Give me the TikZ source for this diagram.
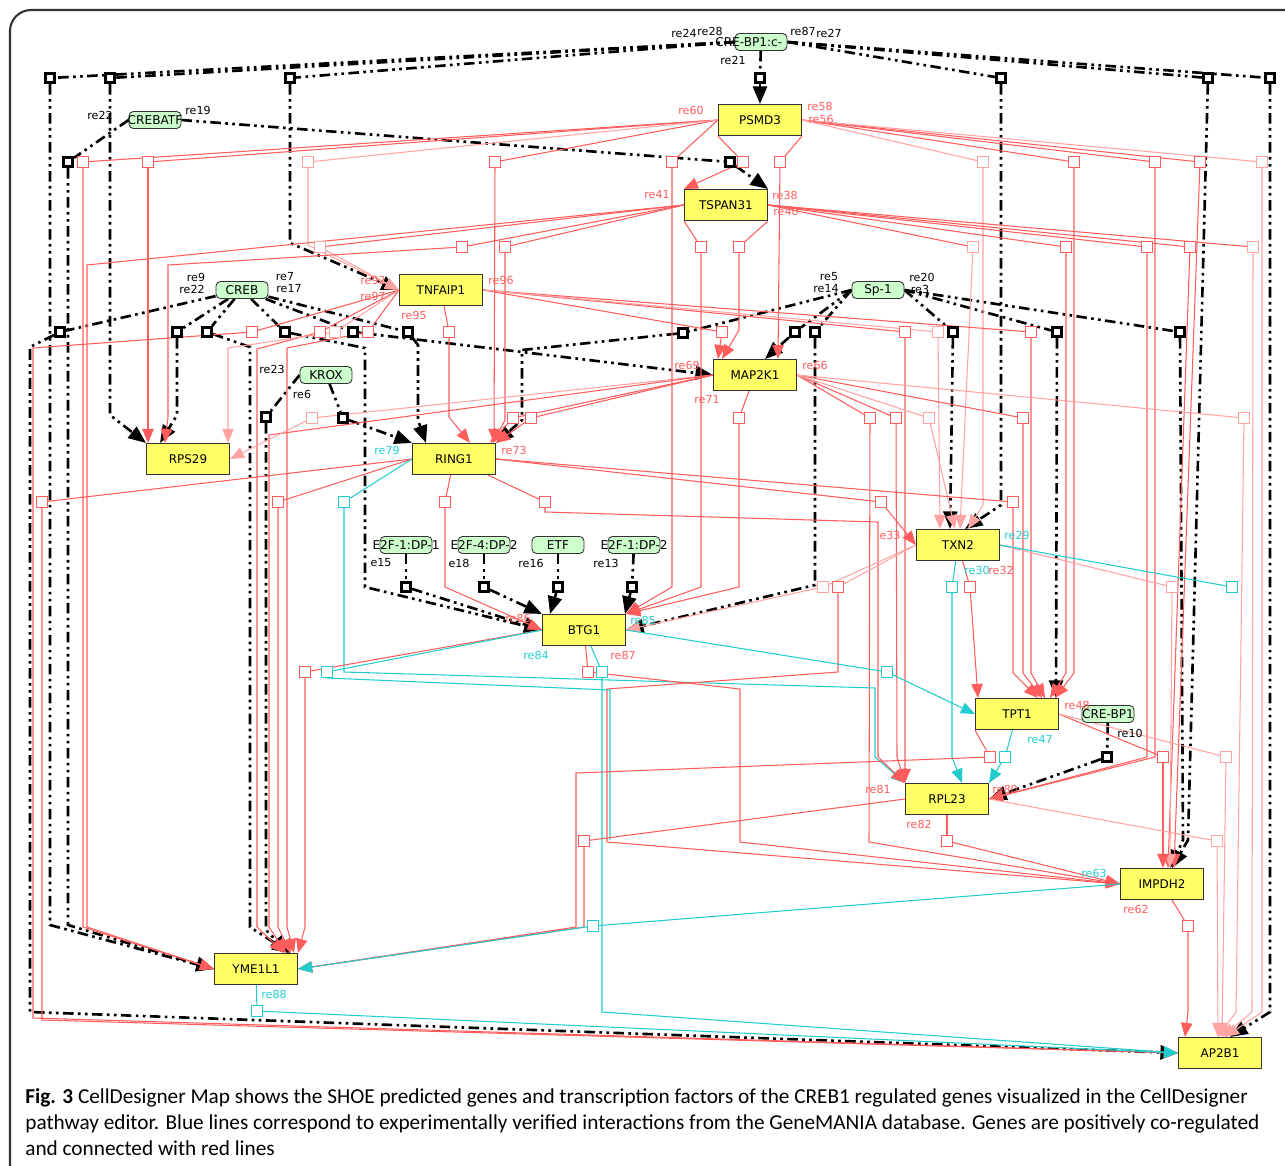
\documentclass[tikz,border=0pt]{standalone}
\usepackage{fontspec}
\setmainfont{DejaVu Sans}
\newfontfamily\capfont{Carlito}
\usepackage{tikz}
\usetikzlibrary{arrows.meta}

\definecolor{geneYellow}{HTML}{FFFF66}
\definecolor{tfGreen}{HTML}{CCFFCC}
\definecolor{coRed}{HTML}{FF5C5C}
\definecolor{coPink}{HTML}{FFA3A3}
\definecolor{gmCyan}{HTML}{22CCCC}

\pgfdeclarelayer{edges}
\pgfsetlayers{edges,main}

\begin{document}
\begin{tikzpicture}[
    x=0.02cm, y=-0.02cm,
    % gene and factor boxes
    geneNode/.style={rectangle, draw=black!80, line width=0.6pt, fill=geneYellow,
        minimum width=1.66cm, minimum height=0.62cm, inner sep=0pt,
        font=\fontsize{6.8}{8}\selectfont},
    tfNode/.style={rectangle, rounded corners=2.5pt, draw=black!80, line width=0.5pt,
        fill=tfGreen, minimum width=1.04cm, minimum height=0.34cm, inner sep=0pt,
        font=\fontsize{6.9}{8}\selectfont},
    % process squares
    tfSq/.style={rectangle, draw=black, line width=1.5pt, fill=white,
        minimum size=0.19cm, inner sep=0pt},
    redSq/.style={rectangle, draw=coRed, line width=0.6pt, fill=white,
        minimum size=0.22cm, inner sep=0pt},
    pinkSq/.style={redSq, draw=coPink},
    cyanSq/.style={redSq, draw=gmCyan},
    % connectors
    tfEdge/.style={draw=black, line width=1.5pt,
        dash pattern=on 6pt off 2.5pt on 1.5pt off 2.5pt on 1.5pt off 2.5pt},
    tfArrow/.style={tfEdge, -{Triangle[length=10pt,width=8pt]}},
    coEdge/.style={draw=coRed, line width=0.6pt},
    coArrow/.style={coEdge, -{Triangle[length=8pt,width=6.5pt]}},
    pkEdge/.style={draw=coPink, line width=0.6pt},
    pkArrow/.style={pkEdge, -{Triangle[length=8pt,width=6.5pt]}},
    gmEdge/.style={draw=gmCyan, line width=0.6pt},
    gmArrow/.style={gmEdge, -{Triangle[length=8pt,width=6.5pt]}},
    % reaction labels
    reLabel/.style={font=\fontsize{6.3}{7}\selectfont, inner sep=0pt},
    reBlack/.style={reLabel, text=black},
    reRed/.style={reLabel, text=coRed},
    reCyan/.style={reLabel, text=gmCyan},
    capText/.style={anchor=base west, inner sep=0pt, font=\capfont\fontsize{12.1}{14}\selectfont}
]
\useasboundingbox (0,0) rectangle (1285,1166);
\draw[line width=1.2pt, black!80, rounded corners=12pt] (10,1166) -- (10,10) -- (1285,10);

    % Define Nodes
    \node[geneNode] (PSMD3) at (760,120) {PSMD3};
    \node[geneNode] (TSPAN31) at (726,205) {TSPAN31};
    \node[geneNode] (TNFAIP1) at (441,290) {TNFAIP1};
    \node[geneNode] (MAP2K1) at (755,375) {MAP2K1};
    \node[geneNode] (RPS29) at (188,459) {RPS29};
    \node[geneNode] (RING1) at (454,459) {RING1};
    \node[geneNode] (TXN2) at (958,545) {TXN2};
    \node[geneNode] (BTG1) at (584,630) {BTG1};
    \node[geneNode] (TPT1) at (1017,714) {TPT1};
    \node[geneNode] (RPL23) at (947,799) {RPL23};
    \node[geneNode] (IMPDH2) at (1162,884) {IMPDH2};
    \node[geneNode] (YME1L1) at (256,969) {YME1L1};
    \node[geneNode] (AP2B1) at (1220,1053) {AP2B1};

    \node[tfNode] (CREBPc) at (761,42) {\makebox[0pt][l]{\hspace*{-26pt}CRE-BP1:c-}};
    \node[tfNode] (CREBATF) at (155,120) {\makebox[0pt]{CREBATF}};
    \node[tfNode] (CREB) at (242,290) {CREB};
    \node[tfNode] (KROX) at (326,375) {KROX};
    \node[tfNode] (SP1) at (878,290) {Sp-1};
    \node[tfNode] (E2Fa) at (406,545) {\makebox[0pt]{E2F-1:DP-1}};
    \node[tfNode] (E2Fb) at (484,545) {\makebox[0pt]{E2F-4:DP-2}};
    \node[tfNode] (ETF) at (558,545) {ETF};
    \node[tfNode] (E2Fc) at (634,545) {\makebox[0pt]{E2F-1:DP-2}};
    \node[tfNode] (CREBP) at (1108,714) {\makebox[0pt]{CRE-BP1}};

    % process squares
    \foreach \n/\x/\y in {k1/50/78, k2/110/78, k3/290/78, k4/760/78, k5/1001/78,
        k6/1208/78, k7/1270/78, k8/68/162, k9/730/162, k10/60/332, k11/177/332,
        k12/207/332, k13/285/332, k14/353/332, k15/408/332, k16/266/417, k17/343/418,
        k18/683/333, k19/795/332, k20/815/332, k21/953/332, k22/1057/332, k23/1180/332,
        k24/406/587, k25/484/587, k26/558/587, k27/632/587, k28/1107/757}
        \node[tfSq] (\n) at (\x,\y) {};
    \foreach \n/\x/\y in {p1/83/162, p2/148/162, p4/495/162, p5/672/162, p6/743/162,
        p7/780/162, p9/1074/162, p10/1155/162, p11/1200/162,
        t2/462/247, t3/505/247, t4/701/247, t5/739/247, t7/1066/247, t8/1147/247,
        t9/1190/247, n1/252/332, n2/320/332, n4/368/332, n5/449/332, n6/722/332,
        n7/905/332, n9/1031/332, m2/513/418, m3/531/418, m4/739/418, m5/870/418,
        m6/896/418, m8/1023/418, g1/42/502, g2/278/502, g4/445/502, g5/545/502,
        g6/881/502, g7/1013/502, x2/838/587, x4/970/587, b1/305/672, b3/588/672,
        u1/990/757, u3/1163/757, l1/584/841, l2/947/841, i2/1188/926}
        \node[redSq] (\n) at (\x,\y) {};
    \foreach \n/\x/\y in {p3/308/162, p8/983/162, p12/1262/162, t1/320/247,
        t6/973/247, t10/1253/247, n3/335/332, n8/938/332, m1/312/418, m7/929/418,
        m9/1244/418, x1/823/587, x5/1172/587, u4/1226/757, l3/1217/841}
        \node[pinkSq] (\n) at (\x,\y) {};
    \foreach \n/\x/\y in {g3/344/502, x3/952/587, x6/1232/587, b2/327/672,
        b4/602/672, b5/887/672, u2/1005/757, i1/593/926, y1/257/1011}
        \node[cyanSq] (\n) at (\x,\y) {};

    % reaction labels
    \foreach \t/\x/\y [count=\i] in {re24/684/33, re28/710/31, re87/803/31, re27/829/33,
        re21/733/60, re22/100/115, re19/198/110, re9/196/277, re22/192/289, re7/285/277,
        re17/289/289, re23/272/369, re6/302/394, re5/829/277, re14/826/289,
        re20/922/277, re3/920/289, e15/381/563, e18/459/563, re16/531/563,
        re13/606/563, re10/1130/733}
        \node[reBlack] (lk\i) at (\x,\y) {\t};
    \foreach \t/\x/\y [count=\i] in {re60/691/110, re58/820/106, re56/821/119,
        re41/657/195, re38/785/195, re40/786/211, re92/373/280, re97/373/296,
        re95/414/315, re96/501/280, re69/687/365, re66/815/365, re71/707/400,
        re73/514/450, e33/890/535, re32/1001/570, re48/1077/705, re81/878/789,
        re80/1005/789, re82/919/824, re62/1136/909, re87/623/655, re86/518/618}
        \node[reRed] (lr\i) at (\x,\y) {\t};
    \foreach \t/\x/\y [count=\i] in {re79/387/450, re30/977/570, re29/1017/535,
        re47/1040/740, re63/1094/873, re84/536/655, re85/643/620, re88/274/994}
        \node[reCyan] (lc\i) at (\x,\y) {\t};

    % caption
    \node[capText] (cap1) at (25,1103)
        {{\bfseries Fig. 3} CellDesigner Map shows the SHOE predicted genes and transcription factors of the CREB1 regulated genes visualized in the CellDesigner};
    \node[capText] (cap2) at (25,1129)
        {pathway editor. Blue lines correspond to experimentally verified interactions from the GeneMANIA database. Genes are positively co-regulated};
    \node[capText] (cap3) at (25,1155)
        {and connected with red lines};

    % Draw Edges
    \begin{pgfonlayer}{edges}
    % CRE-BP1:c-Jun
    \foreach \k in {k1,k2,k3} \draw[tfEdge] (CREBPc.west) -- (\k);
    \foreach \k in {k5,k6,k7} \draw[tfEdge] (CREBPc.east) -- (\k);
    \draw[tfEdge] (CREBPc) -- (k4);
    \draw[tfArrow] (k4) -- (PSMD3);
    \draw[tfArrow] (k1) -- (50,925) -- (YME1L1.west);
    \draw[tfArrow] (k2) -- (110,415) -- (RPS29.north west);
    \draw[tfArrow] (k3) -- (290,243) -- (TNFAIP1.west);
    \draw[tfArrow] (k5) -- (1001,505) -- (965,0 |- TXN2.north);
    \draw[tfArrow] (k6) -- (1188,840) -- (1172,0 |- IMPDH2.north);
    \draw[tfArrow] (k7) -- (1270,1012) -- (1230,0 |- AP2B1.north);
    % CREBATF
    \draw[tfEdge] (CREBATF.west) -- (k8);
    \draw[tfEdge] (CREBATF.east) -- (k9);
    \draw[tfArrow] (k8) -- (68,925) -- (YME1L1.west);
    \draw[tfArrow] (k9) -- (TSPAN31.north east);
    % CREB
    \foreach \k in {k10,k11,k12,k13,k14,k15} \draw[tfEdge] (CREB) -- (\k);
    \draw[tfArrow] (k10) -- (30,347) -- (30,1012) -- (AP2B1.west);
    \draw[tfArrow] (k11) -- (177,415) -- (160,0 |- RPS29.north);
    \draw[tfArrow] (k12) -- (250,347) -- (250,927) -- (290,0 |- YME1L1.north);
    \draw[tfArrow] (k13) -- (365,348) -- (365,587) -- (BTG1.west);
    \draw[tfArrow] (k14) -- (522,352) -- (MAP2K1.west);
    \draw[tfArrow] (k15) -- (418,345) -- (418,420) -- (426,0 |- RING1.north);
    % KROX
    \draw[tfEdge] (KROX.west) -- (k16);
    \draw[tfEdge] (KROX) -- (k17);
    \draw[tfArrow] (k16) -- (266,930) -- (288,0 |- YME1L1.north);
    \draw[tfArrow] (k17) -- (RING1.north west);
    % Sp-1
    \foreach \k in {k18,k19,k20} \draw[tfEdge] (SP1.west) -- (\k);
    \foreach \k in {k21,k22,k23} \draw[tfEdge] (SP1.east) -- (\k);
    \draw[tfArrow] (k18) -- (522,350) -- (522,420) -- (RING1.north east);
    \draw[tfArrow] (k19) -- (765,0 |- MAP2K1.north);
    \draw[tfArrow] (k20) -- (815,585) -- (BTG1.east);
    \draw[tfArrow] (k21) -- (950,0 |- TXN2.north);
    \draw[tfArrow] (k22) -- (1056,0 |- TPT1.north);
    \draw[tfArrow] (k23) -- (1183,840) -- (1170,0 |- IMPDH2.north);
    % E2F, ETF
    \draw[tfEdge] (E2Fa) -- (k24);
    \draw[tfEdge] (E2Fb) -- (k25);
    \draw[tfEdge] (ETF) -- (k26);
    \draw[tfEdge] (E2Fc) -- (k27);
    \draw[tfArrow] (k24) -- (BTG1.west);
    \draw[tfArrow] (k25) -- (BTG1.north west);
    \draw[tfArrow] (k26) -- (550,0 |- BTG1.north);
    \draw[tfArrow] (k27) -- (625,0 |- BTG1.north);
    % CRE-BP1
    \draw[tfEdge] (CREBP) -- (k28);
    \draw[tfArrow] (k28) -- (RPL23.east);

    % PSMD3
    \foreach \q in {p1,p2,p4,p5} \draw[coEdge] (PSMD3.west) -- (\q);
    \draw[pkEdge] (PSMD3.west) -- (p3);
    \draw[coEdge] (PSMD3.south west) -- (p6);
    \draw[coEdge] (PSMD3.south east) -- (p7);
    \foreach \q in {p9,p10,p11} \draw[coEdge] (PSMD3.east) -- (\q);
    \foreach \q in {p8,p12} \draw[pkEdge] (PSMD3.east) -- (\q);
    \draw[coArrow] (p1) -- (83,927) -- (YME1L1.west);
    \draw[coArrow] (p2) -- (148,0 |- RPS29.north);
    \draw[pkArrow] (p3) -- (308,245) -- (TNFAIP1.west);
    \draw[coArrow] (p4) -- (494,0 |- RING1.north);
    \draw[coArrow] (p5) -- (672,587) -- (BTG1.north east);
    \draw[coArrow] (p6) -- (TSPAN31.north west);
    \draw[coArrow] (p7) -- (778,0 |- MAP2K1.north);
    \draw[pkArrow] (p8) -- (983,505) -- (968,0 |- TXN2.north);
    \draw[coArrow] (p9) -- (1074,673) -- (1055,0 |- TPT1.north);
    \draw[coArrow] (p10) -- (1155,757) -- (RPL23.east);
    \draw[coArrow] (p11) -- (1174,0 |- IMPDH2.north);
    \draw[pkArrow] (p12) -- (1262,1012) -- (1225,0 |- AP2B1.north);

    % TSPAN31
    \foreach \q in {t1,t2,t3} \draw[coEdge] (TSPAN31.west) -- (\q);
    \draw[coEdge] (TSPAN31.south west) -- (t4);
    \draw[coEdge] (TSPAN31.south east) -- (t5);
    \foreach \q in {t6,t7,t8,t9,t10} \draw[coEdge] (TSPAN31.east) -- (\q);
    \draw[coArrow] (TSPAN31.west) -- (87,265) -- (87,927) -- (YME1L1.west);
    \draw[pkArrow] (t1) -- (TNFAIP1.west);
    \draw[coArrow] (t2) -- (168,265) -- (168,417) -- (165,0 |- RPS29.north);
    \draw[coArrow] (t3) -- (505,420) -- (493,0 |- RING1.north);
    \draw[coArrow] (t4) -- (701,587) -- (BTG1.north east);
    \draw[coArrow] (t5) -- (739,330) -- (722,0 |- MAP2K1.north);
    \draw[pkArrow] (t6) -- (960,0 |- TXN2.north);
    \draw[coArrow] (t7) -- (1066,673) -- (1050,0 |- TPT1.north);
    \draw[coArrow] (t8) -- (1147,757) -- (RPL23.east);
    \draw[coArrow] (t9) -- (1168,0 |- IMPDH2.north);
    \draw[pkArrow] (t10) -- (1252,1012) -- (1222,0 |- AP2B1.north);

    % TNFAIP1
    \foreach \q in {n1,n2,n4} \draw[coEdge] (TNFAIP1.west) -- (\q);
    \draw[pkEdge] (TNFAIP1.west) -- (n3);
    \draw[coEdge] (TNFAIP1) -- (n5);
    \foreach \q in {n6,n7,n9} \draw[coEdge] (TNFAIP1.east) -- (\q);
    \draw[pkEdge] (TNFAIP1.east) -- (n8);
    \draw[coArrow] (n1) -- (33,348) -- (33,1018) -- (AP2B1.west);
    \draw[coArrow] (n2) -- (257,349) -- (257,927) -- (284,0 |- YME1L1.north);
    \draw[pkArrow] (n3) -- (228,348) -- (228,0 |- RPS29.north);
    \draw[coArrow] (n4) -- (287,348) -- (287,927) -- (294,0 |- YME1L1.north);
    \draw[coArrow] (n5) -- (449,417) -- (470,0 |- RING1.north);
    \draw[coArrow] (n6) -- (718,0 |- MAP2K1.north);
    \draw[coArrow] (n7) -- (905,757) -- (RPL23.north west);
    \draw[pkArrow] (n8) -- (940,0 |- TXN2.north);
    \draw[coArrow] (n9) -- (1031,673) -- (1045,0 |- TPT1.north);

    % MAP2K1
    \draw[pkEdge] (MAP2K1.west) -- (m1);
    \foreach \q in {m2,m3} \draw[coEdge] (MAP2K1.west) -- (\q);
    \draw[coEdge] (MAP2K1) -- (m4);
    \foreach \q in {m5,m6,m8} \draw[coEdge] (MAP2K1.east) -- (\q);
    \foreach \q in {m7,m9} \draw[pkEdge] (MAP2K1.east) -- (\q);
    \draw[coArrow] (MAP2K1.west) -- (269,435) -- (269,927) -- (286,0 |- YME1L1.north);
    \draw[pkArrow] (m1) -- (RPS29.east);
    \draw[coArrow] (m2) -- (490,0 |- RING1.north);
    \draw[coArrow] (m3) -- (RING1.north east);
    \draw[coArrow] (m4) -- (739,587) -- (BTG1.north east);
    \draw[coArrow] (m5) -- (869,842) -- (IMPDH2.west);
    \draw[coArrow] (m6) -- (897,757) -- (RPL23.north west);
    \draw[pkArrow] (m7) -- (955,0 |- TXN2.north);
    \draw[coArrow] (m8) -- (1023,673) -- (1042,0 |- TPT1.north);
    \draw[pkArrow] (m9) -- (1236,1012) -- (1218,0 |- AP2B1.north);

    % RING1
    \foreach \q in {g1,g2} \draw[coEdge] (RING1.west) -- (\q);
    \draw[gmEdge] (RING1.west) -- (g3);
    \foreach \q in {g4,g5} \draw[coEdge] (RING1) -- (\q);
    \foreach \q in {g6,g7} \draw[coEdge] (RING1.east) -- (\q);
    \draw[coArrow] (g1) -- (42,1020) -- (AP2B1.west);
    \draw[coArrow] (g2) -- (278,927) -- (291,0 |- YME1L1.north);
    \draw[gmArrow] (g3) -- (344,672) -- (875,688) -- (875,757) -- (RPL23.north west);
    \draw[coArrow] (g4) -- (445,587) -- (BTG1.west);
    \draw[coArrow] (g5) -- (545,512) -- (878,522) -- (878,757) -- (RPL23.north west);
    \draw[coArrow] (g6) -- (TXN2.west);
    \draw[coArrow] (g7) -- (1013,673) -- (1038,0 |- TPT1.north);

    % TXN2
    \foreach \q in {x1,x2} \draw[pkEdge] (TXN2.west) -- (\q);
    \draw[gmEdge] (TXN2) -- (x3);
    \draw[coEdge] (TXN2) -- (x4);
    \draw[pkEdge] (TXN2.east) -- (x5);
    \draw[gmEdge] (TXN2.east) -- (x6);
    \draw[pkArrow] (x1) -- (BTG1.east);
    \draw[coArrow] (x2) -- (838,672) -- (607,689) -- (607,842) -- (IMPDH2.west);
    \draw[gmArrow] (x3) -- (952,757) -- (962,0 |- RPL23.north);
    \draw[coArrow] (x4) -- (978,0 |- TPT1.north);
    \draw[pkArrow] (x5) -- (1170,0 |- IMPDH2.north);

    % BTG1
    \draw[coEdge] (BTG1.west) -- (b1);
    \draw[gmEdge] (BTG1.west) -- (b2);
    \draw[coEdge] (BTG1) -- (b3);
    \draw[gmEdge] (BTG1) -- (b4);
    \draw[gmEdge] (BTG1.east) -- (b5);
    \coordinate (b2end) at (610,840);
    \draw[coArrow] (b1) -- (305,927) -- (YME1L1.north east);
    \draw[gmEdge] (b2) -- (327,678) -- (610,690) -- (b2end);
    \draw[coArrow] (b3) -- (740,689) -- (740,842) -- (IMPDH2.west);
    \draw[gmArrow] (b4) -- (602,1012) -- (AP2B1.west);
    \draw[gmArrow] (b5) -- (TPT1.west);

    % TPT1
    \draw[coEdge] (TPT1.south west) -- (u1);
    \draw[gmEdge] (TPT1) -- (u2);
    \draw[coEdge] (TPT1.east) -- (u3);
    \draw[pkEdge] (TPT1.east) -- (u4);
    \draw[coArrow] (u1) -- (576,773) -- (576,927) -- (YME1L1.east);
    \draw[gmArrow] (u2) -- (RPL23.north east);
    \draw[coArrow] (u3) -- (1163,0 |- IMPDH2.north);
    \draw[pkArrow] (u4) -- (1222,0 |- AP2B1.north);

    % RPL23
    \draw[coEdge] (RPL23.west) -- (l1);
    \draw[coEdge] (RPL23) -- (l2);
    \draw[pkEdge] (RPL23.east) -- (l3);
    \draw[coArrow] (l1) -- (584,927) -- (YME1L1.east);
    \draw[coArrow] (l2) -- (IMPDH2.west);
    \draw[pkArrow] (l3) -- (1218,0 |- AP2B1.north);

    % IMPDH2, YME1L1
    \draw[gmEdge] (IMPDH2.west) -- (i1);
    \draw[coEdge] (IMPDH2) -- (i2);
    \draw[gmArrow] (i1) -- (YME1L1.east);
    \draw[coArrow] (i2) -- (1188,1012) -- (1185,0 |- AP2B1.north);
    \draw[gmEdge] (YME1L1) -- (y1);
    \draw[gmArrow] (y1) -- (AP2B1.west);
    \end{pgfonlayer}

\end{tikzpicture}
\end{document}
